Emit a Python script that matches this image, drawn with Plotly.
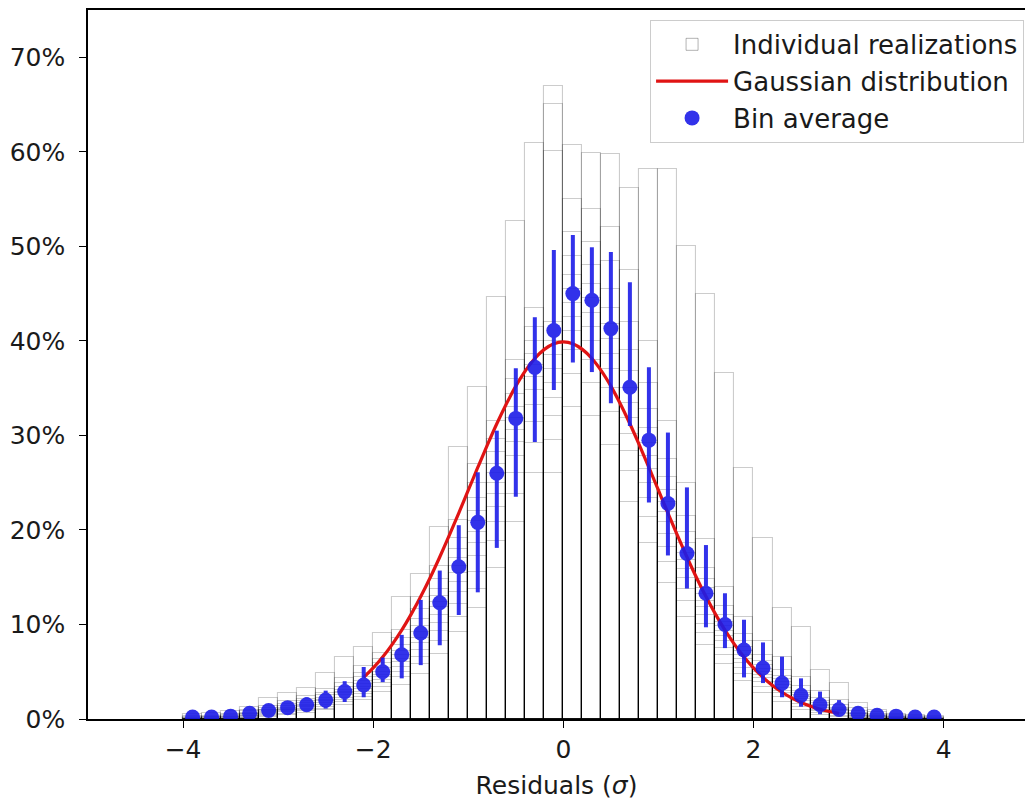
import plotly.graph_objects as go

# ---------------- data (percent) ----------------
bin_centers = [-3.9, -3.7, -3.5, -3.3, -3.1, -2.9, -2.7, -2.5, -2.3, -2.1,
               -1.9, -1.7, -1.5, -1.3, -1.1, -0.9, -0.7, -0.5, -0.3, -0.1,
               0.1, 0.3, 0.5, 0.7, 0.9, 1.1, 1.3, 1.5, 1.7, 1.9,
               2.1, 2.3, 2.5, 2.7, 2.9, 3.1, 3.3, 3.5, 3.7, 3.9]
bin_width = 0.2

# heights of the individual realizations in each bin (percent)
realization_heights = [
    [0.5, 0.3, 0.2, 0.1, 0.1, 0, 0, 0, 0, 0, 0, 0],                       # -3.9
    [0.6, 0.3, 0.2, 0.2, 0.1, 0.1, 0, 0, 0, 0, 0, 0],                     # -3.7
    [0.8, 0.5, 0.4, 0.3, 0.2, 0.2, 0.1, 0.1, 0, 0, 0, 0],                 # -3.5
    [1.3, 0.9, 0.8, 0.6, 0.5, 0.5, 0.4, 0.3, 0.3, 0.2, 0.1, 0.1],         # -3.3
    [2.2, 1.4, 1.2, 1.0, 0.9, 0.8, 0.7, 0.6, 0.5, 0.4, 0.3, 0.2],         # -3.1
    [2.8, 1.9, 1.6, 1.4, 1.2, 1.1, 1.0, 0.9, 0.8, 0.7, 0.5, 0.4],         # -2.9
    [3.3, 2.4, 2.1, 1.9, 1.7, 1.5, 1.4, 1.3, 1.1, 1.0, 0.8, 0.6],         # -2.7
    [4.9, 3.2, 2.8, 2.5, 2.2, 2.0, 1.9, 1.7, 1.5, 1.3, 1.1, 0.9],         # -2.5
    [6.6, 4.3, 3.8, 3.4, 3.1, 2.9, 2.7, 2.5, 2.2, 2.0, 1.8, 1.5],         # -2.3
    [7.6, 5.6, 4.9, 4.4, 4.0, 3.7, 3.4, 3.2, 2.9, 2.6, 2.3, 2.0],         # -2.1
    [9.1, 7.0, 6.4, 5.9, 5.4, 5.0, 4.7, 4.4, 4.1, 3.8, 3.4, 2.9],         # -1.9
    [12.9, 9.4, 8.6, 7.8, 7.2, 6.8, 6.4, 6.0, 5.5, 5.0, 4.4, 3.6],        # -1.7
    [15.3, 12.9, 11.6, 10.6, 9.8, 9.2, 8.6, 8.0, 7.3, 6.6, 5.8, 4.8],     # -1.5
    [20.3, 16.2, 14.8, 13.8, 13.0, 12.4, 11.8, 11.0, 10.2, 9.3, 8.2, 6.9],  # -1.3
    [28.8, 21.0, 19.2, 18.0, 17.0, 16.2, 15.4, 14.5, 13.4, 12.2, 10.8, 9.2],  # -1.1
    [35.1, 27.0, 25.0, 23.4, 22.0, 20.9, 19.8, 18.6, 17.2, 15.6, 13.8, 11.7],  # -0.9
    [44.6, 31.5, 29.6, 28.2, 27.0, 26.0, 25.0, 23.8, 22.4, 20.8, 18.8, 16.0],  # -0.7
    [52.7, 38.0, 36.0, 34.4, 33.0, 31.8, 30.6, 29.3, 27.8, 26.0, 23.8, 20.8],  # -0.5
    [60.9, 43.5, 41.5, 40.0, 38.6, 37.4, 36.2, 34.8, 33.2, 31.4, 29.2, 26.0],  # -0.3
    [67.0, 65.1, 60.1, 42.0, 40.0, 38.5, 37.0, 35.5, 34.0, 32.0, 29.5, 26.0],  # -0.1
    [60.7, 55.0, 51.5, 49.0, 47.0, 45.5, 44.0, 42.5, 41.0, 39.0, 36.5, 33.0],  # 0.1
    [59.9, 54.0, 50.5, 48.0, 46.0, 44.5, 43.0, 41.5, 40.0, 38.0, 35.5, 32.0],  # 0.3
    [59.8, 52.0, 48.5, 45.5, 43.5, 41.8, 40.2, 38.6, 37.0, 35.0, 32.5, 29.0],  # 0.5
    [56.2, 47.5, 42.0, 39.0, 36.8, 35.0, 33.4, 31.8, 30.2, 28.4, 26.2, 23.0],  # 0.7
    [58.2, 40.0, 35.5, 32.8, 30.8, 29.2, 27.8, 26.4, 25.0, 23.4, 21.4, 18.6],  # 0.9
    [58.2, 31.5, 27.5, 25.6, 24.2, 23.0, 21.9, 20.8, 19.6, 18.2, 16.6, 14.4],  # 1.1
    [50.0, 25.0, 21.5, 19.8, 18.6, 17.6, 16.8, 15.9, 14.9, 13.8, 12.5, 10.8],  # 1.3
    [45.0, 19.0, 16.0, 14.8, 13.9, 13.2, 12.5, 11.8, 11.0, 10.1, 9.1, 7.8],    # 1.5
    [36.6, 14.0, 12.0, 11.0, 10.3, 9.8, 9.3, 8.8, 8.2, 7.5, 6.8, 5.8],     # 1.7
    [26.6, 10.8, 9.0, 8.2, 7.6, 7.2, 6.8, 6.4, 5.9, 5.4, 4.8, 4.0],        # 1.9
    [19.2, 8.2, 6.8, 6.1, 5.7, 5.3, 5.0, 4.7, 4.3, 3.9, 3.4, 2.8],         # 2.1
    [11.7, 6.6, 5.2, 4.6, 4.2, 3.9, 3.6, 3.3, 3.0, 2.7, 2.3, 1.8],         # 2.3
    [9.7, 4.4, 3.5, 3.0, 2.7, 2.5, 2.3, 2.1, 1.9, 1.6, 1.3, 1.0],          # 2.5
    [5.2, 3.0, 2.2, 1.9, 1.7, 1.5, 1.4, 1.2, 1.0, 0.8, 0.6, 0.4],          # 2.7
    [3.8, 2.0, 1.5, 1.2, 1.1, 1.0, 0.9, 0.8, 0.6, 0.5, 0.3, 0.2],          # 2.9
    [1.7, 1.2, 0.8, 0.6, 0.5, 0.5, 0.4, 0.3, 0.3, 0.2, 0.1, 0.1],          # 3.1
    [1.0, 0.7, 0.5, 0.4, 0.3, 0.3, 0.2, 0.2, 0.1, 0.1, 0, 0],              # 3.3
    [0.5, 0.4, 0.3, 0.2, 0.2, 0.1, 0.1, 0.1, 0, 0, 0, 0],                  # 3.5
    [0.4, 0.3, 0.2, 0.1, 0.1, 0, 0, 0, 0, 0, 0, 0],                        # 3.7
    [0.3, 0.2, 0.1, 0.1, 0, 0, 0, 0, 0, 0, 0, 0],                          # 3.9
]

bin_average = [0.2, 0.2, 0.3, 0.6, 0.9, 1.2, 1.5, 2.0, 2.9, 3.6,
               5.0, 6.8, 9.1, 12.3, 16.1, 20.8, 26.0, 31.8, 37.2, 41.1,
               45.0, 44.3, 41.3, 35.1, 29.5, 22.8, 17.5, 13.3, 10.0, 7.3,
               5.4, 3.8, 2.5, 1.5, 1.0, 0.6, 0.4, 0.3, 0.2, 0.2]
err_upper_edge = [0.4, 0.4, 0.6, 1.0, 1.4, 1.8, 2.3, 3.0, 4.0, 5.5,
                  6.5, 8.9, 12.6, 15.7, 20.5, 26.1, 30.5, 37.1, 42.5, 49.6,
                  51.2, 49.9, 49.4, 46.2, 37.2, 30.3, 24.5, 18.4, 13.3, 10.5,
                  8.1, 6.6, 4.3, 2.9, 2.0, 1.2, 0.8, 0.6, 0.4, 0.4]
err_lower_edge = [0.0, 0.0, 0.1, 0.2, 0.4, 0.6, 0.8, 1.1, 1.8, 2.3,
                  3.9, 4.3, 5.7, 7.8, 11.0, 13.4, 18.1, 23.5, 29.3, 34.8,
                  37.7, 36.7, 33.4, 31.0, 22.9, 17.3, 13.8, 9.7, 7.5, 4.4,
                  3.8, 2.3, 1.3, 0.5, 0.3, 0.1, 0.0, 0.0, 0.0, 0.0]

gauss_x = [-2.1, -2.0, -1.9, -1.8, -1.7, -1.6, -1.5, -1.4, -1.3, -1.2, -1.1,
           -1.0, -0.9, -0.8, -0.7, -0.6, -0.5, -0.4, -0.3, -0.2, -0.1, 0.0,
           0.1, 0.2, 0.3, 0.4, 0.5, 0.6, 0.7, 0.8, 0.9, 1.0, 1.1, 1.2, 1.3,
           1.4, 1.5, 1.6, 1.7, 1.8, 1.9, 2.0, 2.1, 2.2, 2.3, 2.4, 2.5, 2.6,
           2.7, 2.8, 2.9]
gauss_y = [4.40, 5.40, 6.56, 7.90, 9.40, 11.09, 12.95, 14.97, 17.14, 19.42, 21.79,
           24.20, 26.61, 28.97, 31.23, 33.32, 35.21, 36.83, 38.14, 39.10, 39.70, 39.89,
           39.70, 39.10, 38.14, 36.83, 35.21, 33.32, 31.23, 28.97, 26.61, 24.20, 21.79,
           19.42, 17.14, 14.97, 12.95, 11.09, 9.40, 7.90, 6.56, 5.40, 4.40, 3.55,
           2.83, 2.24, 1.75, 1.36, 1.04, 0.79, 0.60]

y_tick_vals = [0.0, 0.1, 0.2, 0.3, 0.4, 0.5, 0.6, 0.7]
x_tick_vals = [-4, -2, 0, 2, 4]
x_tick_text = ["\u22124", "\u22122", "0", "2", "4"]

# ---------------- figure ----------------
FONT = "DejaVu Sans"
BLUE = "rgb(28,28,232)"
FS = 25
fig = go.Figure()

n_real = len(realization_heights[0])
for k in range(n_real):
    fig.add_trace(go.Bar(
        x=bin_centers,
        y=[row[k] / 100 for row in realization_heights],
        width=bin_width,
        marker=dict(color="rgba(0,0,0,0)",
                    line=dict(color="rgba(0,0,0,0.2)", width=1.1)),
        name="Individual realizations",
        legendgroup="real",
        showlegend=False,
        hoverinfo="skip",
    ))
# legend entry for the realizations (no data drawn)
fig.add_trace(go.Bar(
    x=[None], y=[None],
    marker=dict(color="rgba(255,255,255,0)",
                line=dict(color="rgba(0,0,0,0.3)", width=1)),
    name="Individual realizations",
    legendgroup="real",
    showlegend=True,
))

fig.add_trace(go.Scatter(
    x=gauss_x, y=[v / 100 for v in gauss_y],
    mode="lines",
    line=dict(color="#e01414", width=3.2, shape="spline"),
    name="Gaussian distribution",
    legendgroup="gauss",
))

fig.add_trace(go.Scatter(
    x=bin_centers, y=[v / 100 for v in bin_average],
    mode="markers",
    marker=dict(color=BLUE, size=15),
    opacity=0.9,
    error_y=dict(type="data", symmetric=False,
                 array=[(u - m) / 100 for u, m in zip(err_upper_edge, bin_average)],
                 arrayminus=[(m - l) / 100 for l, m in zip(err_lower_edge, bin_average)],
                 color=BLUE, thickness=4, width=0),
    name="Bin average",
    legendgroup="avg",
))

# page body has an 8px margin; plot area spans page x 88..1025, y 10..719
fig.update_layout(
    width=1017, height=792,
    margin=dict(l=80, r=0, t=2, b=81),
    paper_bgcolor="white", plot_bgcolor="white",
    barmode="overlay", bargap=0,
    font=dict(family=FONT, size=FS, color="#1a1a1a"),
    showlegend=True,
    legend=dict(x=0.999, xanchor="right", y=0.986, yanchor="top",
                bgcolor="rgba(255,255,255,0.85)", bordercolor="#cccccc",
                borderwidth=1, font=dict(family=FONT, size=26, color="#1a1a1a"),
                itemwidth=72, traceorder="normal", tracegroupgap=14),
    xaxis=dict(range=[-5, 4.856], tickvals=x_tick_vals, ticktext=x_tick_text,
               ticks="outside", ticklen=7, tickwidth=1.3, tickcolor="black",
               ticklabelstandoff=0,
               showline=True, linecolor="black", linewidth=1.5, mirror=True,
               showgrid=False, zeroline=False, automargin=False,
               title=dict(text="Residuals (<i>σ</i>)", standoff=22,
                          font=dict(family=FONT, size=FS))),
    yaxis=dict(range=[0, 0.75], tickvals=y_tick_vals, tickformat=".0%",
               ticks="outside", ticklen=7, tickwidth=1.3, tickcolor="black",
               ticklabelstandoff=9,
               showline=True, linecolor="black", linewidth=1.5, mirror=False,
               showgrid=False, zeroline=False, automargin=False),
)

fig.write_html("out.html")
